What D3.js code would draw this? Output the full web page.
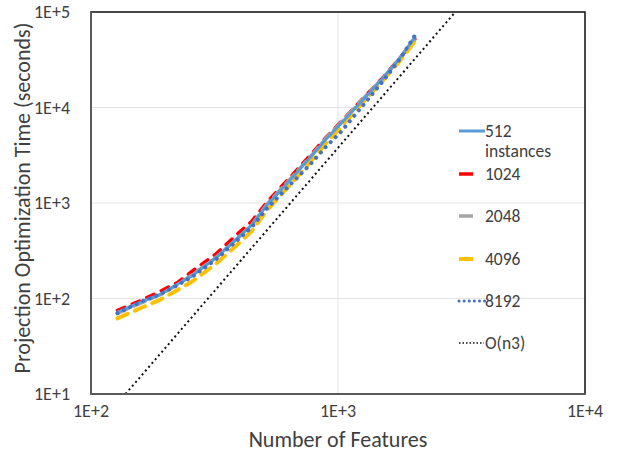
<!DOCTYPE html>
<html>
<head>
<meta charset="utf-8">
<script src="https://cdn.jsdelivr.net/npm/d3@7"></script>
<style>
  body { margin: 0; background: #fff; }
  text { font-family: Carlito, Calibri, Lato, "Open Sans", sans-serif; fill: #404040; }
</style>
</head>
<body>
<svg id="chart" width="618" height="452"></svg>
<script>
// Data
const features = [128, 160, 192, 224, 256, 320, 384, 448, 512, 640, 768, 896, 1024, 1280, 1536, 1792, 2048];
const time512 = [72, 92, 111, 142, 172, 266, 410, 589, 930, 1740, 2960, 4680, 6720, 12500, 20900, 33800, 54700];
const time1024 = [75, 96, 120, 147, 192, 292, 452, 645, 1000, 1860, 3120, 4880, 7000, 12900, 21200, 33500, 52000];
const time2048 = [70, 90, 110, 140, 176, 268, 405, 592, 950, 1780, 3000, 4800, 6900, 12800, 21000, 33000, 51000];
const time4096 = [62, 80, 98, 123, 150, 230, 350, 510, 820, 1550, 2650, 4250, 6200, 11800, 19800, 31500, 49500];
const time8192 = [70, 93, 112, 138, 168, 255, 390, 560, 860, 1550, 2500, 3900, 5500, 11000, 19500, 33000, 57000];
const cubicFeatures = [138, 2985];
const cubicTimes = [10, 100000];

const xTicks = [1e2, 1e3, 1e4];
const yTicks = [1e1, 1e2, 1e3, 1e4, 1e5];

const svg = d3.select("#chart");
const margin = { left: 91, right: 33, top: 12, bottom: 58 };
const width = 618 - margin.left - margin.right;
const height = 452 - margin.top - margin.bottom;

const x = d3.scaleLog().domain([1e2, 1e4]).range([margin.left, margin.left + width]);
const y = d3.scaleLog().domain([1e1, 1e5]).range([margin.top + height, margin.top]);

const fmt = (d) => "1E+" + Math.round(Math.log10(d));

// Gridlines
svg.append("g")
    .selectAll("line")
    .data(yTicks)
    .enter()
    .append("line")
    .attr("x1", margin.left)
    .attr("x2", margin.left + width)
    .attr("y1", (d) => y(d))
    .attr("y2", (d) => y(d))
    .attr("stroke", "#e3e3e3")
    .attr("stroke-width", 1);

svg.append("g")
    .selectAll("line")
    .data(xTicks)
    .enter()
    .append("line")
    .attr("x1", (d) => x(d))
    .attr("x2", (d) => x(d))
    .attr("y1", margin.top)
    .attr("y2", margin.top + height)
    .attr("stroke", "#e3e3e3")
    .attr("stroke-width", 1);

// Plot border
svg.append("rect")
    .attr("x", margin.left)
    .attr("y", margin.top)
    .attr("width", width)
    .attr("height", height)
    .attr("fill", "none")
    .attr("stroke", "#111")
    .attr("stroke-width", 1.5);

svg.append("defs").append("clipPath").attr("id", "clip")
    .append("rect")
    .attr("x", margin.left)
    .attr("y", margin.top)
    .attr("width", width)
    .attr("height", height);

const line = d3.line().x((d) => x(d[0])).y((d) => y(d[1]));
const plot = svg.append("g").attr("clip-path", "url(#clip)");

const series = [
    { vals: time1024, color: "#ff0000", w: 3.5, dash: "8,8" },
    { vals: time2048, color: "#a5a5a5", w: 3.5, dash: "12,6" },
    { vals: time4096, color: "#ffc000", w: 4, dash: "11,8" },
    { vals: time512, color: "#5b9bd5", w: 3, dash: null },
    { vals: time8192, color: "#4472c4", w: 4, dash: "0.1,7" },
];

series.forEach((s) => {
    plot.append("path")
        .datum(features.map((f, i) => [f, s.vals[i]]))
        .attr("d", line)
        .attr("fill", "none")
        .attr("stroke", s.color)
        .attr("stroke-width", s.w)
        .attr("stroke-linecap", "round")
        .attr("stroke-dasharray", s.dash);
});

plot.append("path")
    .datum(cubicFeatures.map((f, i) => [f, cubicTimes[i]]))
    .attr("d", line)
    .attr("fill", "none")
    .attr("stroke", "#111")
    .attr("stroke-width", 2)
    .attr("stroke-dasharray", "2,3");

// Axes lines (grey, over the border)
svg.append("line")
    .attr("x1", margin.left).attr("x2", margin.left)
    .attr("y1", margin.top).attr("y2", margin.top + height)
    .attr("stroke", "#595959").attr("stroke-width", 2);
svg.append("line")
    .attr("x1", margin.left).attr("x2", margin.left + width)
    .attr("y1", margin.top + height).attr("y2", margin.top + height)
    .attr("stroke", "#595959").attr("stroke-width", 2);

// Tick labels
svg.append("g")
    .selectAll("text")
    .data(yTicks)
    .enter()
    .append("text")
    .attr("x", margin.left - 21)
    .attr("y", (d) => y(d) + 6)
    .attr("text-anchor", "end")
    .style("font-size", "18px")
    .text(fmt);

svg.append("g")
    .selectAll("text")
    .data(xTicks)
    .enter()
    .append("text")
    .attr("x", (d) => x(d))
    .attr("y", margin.top + height + 23)
    .attr("text-anchor", "middle")
    .style("font-size", "18px")
    .text(fmt);

// Axis titles
svg.append("text")
    .attr("x", 338)
    .attr("y", 447)
    .attr("text-anchor", "middle")
    .style("font-size", "22px")
    .text("Number of Features");

svg.append("text")
    .attr("transform", "translate(30," + 198 + ") rotate(-90)")
    .attr("text-anchor", "middle")
    .style("font-size", "22px")
    .text("Projection Optimization Time (seconds)");

// Legend
const legend = [
    { label: ["512", "instances"], color: "#5b9bd5", w: 3, dash: null, len: 26, y: 131 },
    { label: ["1024"], color: "#ff0000", w: 3.5, dash: null, len: 14, y: 174 },
    { label: ["2048"], color: "#a5a5a5", w: 3.5, dash: null, len: 14, y: 216 },
    { label: ["4096"], color: "#ffc000", w: 4, dash: null, len: 14, y: 259 },
    { label: ["8192"], color: "#4472c4", w: 3, dash: "0.1,5", len: 26, y: 301 },
    { label: ["O(n3)"], color: "#111", w: 1.5, dash: "1.5,2", len: 25, y: 343 },
];

const lg = svg.append("g");
legend.forEach((d, i) => {
    lg.append("line")
        .attr("x1", 459)
        .attr("x2", 459 + d.len)
        .attr("y1", d.y)
        .attr("y2", d.y)
        .attr("stroke", d.color)
        .attr("stroke-width", d.w)
        .attr("stroke-linecap", i == 4 ? "round" : "butt")
        .attr("stroke-dasharray", d.dash);
    d.label.forEach((t, j) => {
        lg.append("text")
            .attr("x", 485)
            .attr("y", d.y + 6 + j * 20)
            .style("font-size", "17.5px")
            .text(t);
    });
});
</script>
</body>
</html>
